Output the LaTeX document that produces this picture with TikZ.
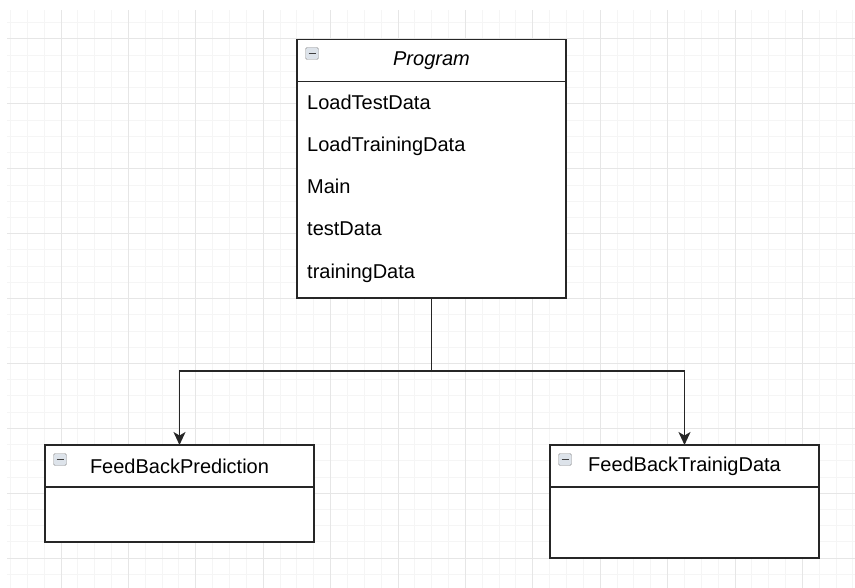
\documentclass[tikz,border=0pt]{standalone}
\usepackage{fontspec}
\setmainfont{Liberation Sans}
\usetikzlibrary{arrows.meta,positioning,calc}
\definecolor{gridMinor}{HTML}{F5F5F5}
\definecolor{gridMajor}{HTML}{E6E6E6}
\definecolor{umlLine}{HTML}{262626}
\definecolor{iconFill}{HTML}{DDE3EA}

\begin{document}
\begin{tikzpicture}[x=1pt, y=-1pt,
  header/.style={draw=umlLine, line width=1.7pt, fill=white, outer sep=0pt,
                 minimum width=269pt, minimum height=42pt, inner sep=0pt,
                 font=\fontsize{20}{24}\selectfont},
  body/.style={draw=umlLine, line width=1.7pt, fill=white, outer sep=0pt,
               minimum width=269pt, inner sep=0pt},
  member/.style={anchor=west, inner sep=0pt, text height=14.5pt, text depth=0pt,
                 font=\fontsize{20}{24}\selectfont},
  icon/.style={draw=gray!85, fill=iconFill, rounded corners=1.5pt,
               minimum width=13pt, minimum height=12pt, inner sep=0pt,
               path picture={\draw[black!75, line width=1.8pt]
                 ([xshift=3pt]path picture bounding box.west) --
                 ([xshift=-3pt]path picture bounding box.east);}},
  link/.style={draw=umlLine, line width=1.7pt},
  tip/.style={-{Stealth[length=13pt, width=12pt, inset=3.5pt]}}
]
  \useasboundingbox (0,0) rectangle (855,588);

  % background grid
  \begin{scope}
    \clip (7,11) rectangle (855,588);
    \foreach \i in {0,...,52}
      \draw[gridMinor, line width=1pt] ({-6.4+16.85*\i},0) -- ++(0,588);
    \foreach \i in {0,...,37}
      \draw[gridMinor, line width=1pt] (0,{-25.9+16.225*\i}) -- ++(855,0);
    \foreach \i in {0,...,13}
      \draw[gridMajor, line width=1pt] ({-6.4+67.4*\i},0) -- ++(0,588);
    \foreach \i in {0,...,9}
      \draw[gridMajor, line width=1pt] (0,{-25.9+64.9*\i}) -- ++(855,0);
  \end{scope}

  % Program class
  \node[header] (prog) at (431.5,60.5) {\textit{Program}};
  \node[body, minimum height=216.5pt, below=0pt of prog] (progbody) {};
  \node[icon] (progicon) at ($(prog.north west)+(15,14)$) {};
  \foreach \i/\t in {0/LoadTestData,1/LoadTrainingData,2/Main,3/testData,4/trainingData}
    \node[member] (m\i) at (307,{102+42.25*\i}) {\t};

  % subclasses
  \node[header] (pred) at (179.5,466) {FeedBackPrediction};
  \node[body, minimum height=55pt, below=0pt of pred] (predbody) {};
  \node[icon] (predicon) at ($(pred.north west)+(15,14.5)$) {};

  \node[header] (train) at (684.5,466) {FeedBackTrainigData};
  \node[body, minimum height=71pt, below=0pt of train] (trainbody) {};
  \node[icon] (trainicon) at ($(train.north west)+(15,14.5)$) {};

  % connectors
  \coordinate (split) at (431.5,371);
  \draw[link] (progbody.south) -- (split);
  \draw[link, tip] (split) -| (pred.north);
  \draw[link, tip] (split) -| (train.north);
\end{tikzpicture}
\end{document}
